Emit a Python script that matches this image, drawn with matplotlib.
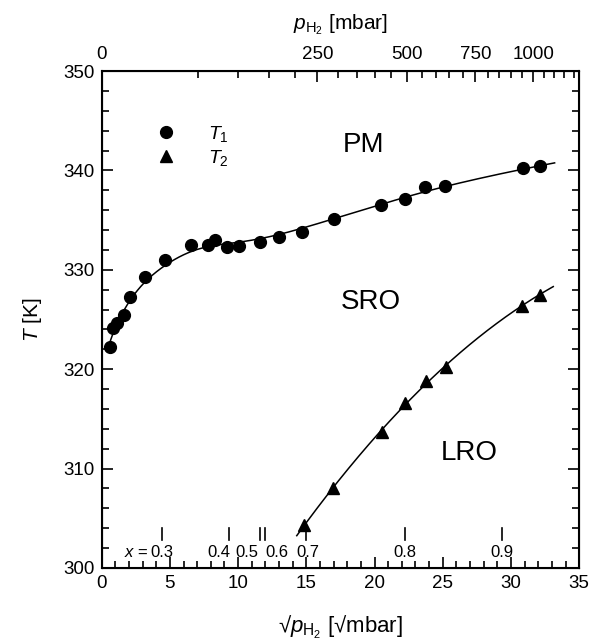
import numpy as np
import matplotlib
matplotlib.use("Agg")
import matplotlib.pyplot as plt
from matplotlib.lines import Line2D

plt.rcParams['font.family'] = ['Liberation Sans', 'DejaVu Sans']
plt.rcParams['mathtext.fontset'] = 'custom'
plt.rcParams['mathtext.rm'] = 'Liberation Sans'
plt.rcParams['mathtext.it'] = 'Liberation Sans:italic'

# ---- data ----
t1_x = [0.60, 0.80, 1.14, 1.65, 2.11, 3.17, 4.61, 6.55, 7.83, 8.30, 9.21, 10.07,
        11.57, 13.03, 14.72, 17.05, 20.50, 22.20, 23.73, 25.18, 30.88, 32.14]
t1_T = [322.2, 324.1, 324.7, 325.5, 327.3, 329.3, 331.0, 332.5, 332.5, 333.0, 332.3, 332.4,
        332.8, 333.3, 333.8, 335.1, 336.5, 337.1, 338.3, 338.4, 340.2, 340.4]
t2_x = [14.80, 16.98, 20.55, 22.24, 23.77, 25.23, 30.81, 32.10]
t2_T = [304.3, 308.0, 313.7, 316.6, 318.8, 320.2, 326.4, 327.5]

comp_labels = ['0.3', '0.4', '0.5', '0.6', '0.7', '0.8', '0.9']
comp_x = [4.44, 9.34, 11.60, 11.94, 15.00, 22.20, 29.35]

p_major = [0, 250, 500, 750, 1000]
p_minor = list(range(50, 1201, 50))

regions = ['PM', 'SRO', 'LRO']


def local_linear(xd, yd, xq, h):
    xd = np.asarray(xd, float)
    yd = np.asarray(yd, float)
    out = []
    for q in xq:
        w = np.exp(-0.5 * ((xd - q) / h) ** 2)
        A = np.vstack([np.ones_like(xd), xd - q]).T
        W = np.diag(w)
        beta = np.linalg.solve(A.T @ W @ A, A.T @ W @ yd)
        out.append(beta[0])
    return np.array(out)


# ---- figure ----
fig = plt.figure(figsize=(5.91, 6.40), dpi=100)
ax = fig.add_axes([0.172, 0.1125, 0.808, 0.7765])

# smoothed curves
xs1 = np.linspace(0.5, 33.2, 400)
ys1 = local_linear(np.sqrt(t1_x), t1_T, np.sqrt(xs1), 0.45)
ax.plot(xs1, ys1, color='black', lw=1.1, zorder=2)

c2 = np.polyfit(t2_x, t2_T, 2)
xs2 = np.linspace(14.3, 33.1, 200)
ax.plot(xs2, np.polyval(c2, xs2), color='black', lw=1.1, zorder=2)

ax.plot(t1_x, t1_T, 'o', color='black', ms=8.5, zorder=3)
ax.plot(t2_x, t2_T, '^', color='black', ms=8.5, zorder=3)

ax.set_xlim(0, 35)
ax.set_ylim(300, 350)
ax.set_xticks(np.arange(0, 36, 5))
ax.set_xticks(np.arange(0, 36, 1), minor=True)
ax.set_yticks(np.arange(300, 351, 10))
ax.set_yticks(np.arange(300, 351, 2), minor=True)
ax.tick_params(which='both', direction='in', right=True, top=False, labelsize=13.5, width=1.2, pad=5)
ax.tick_params(which='major', length=8)
ax.tick_params(which='minor', length=5)
for s in ax.spines.values():
    s.set_linewidth(1.5)

ax.set_ylabel('$T$ [K]', fontsize=15, labelpad=14)
ax.set_xlabel('\u221a$p_{\\mathrm{H_2}}$ [\u221ambar]', fontsize=16, labelpad=16)

# top axis (pressure)
ax2 = ax.twiny()
ax2.set_xlim(0, 35)
ax2.set_xticks(np.sqrt(p_major))
ax2.set_xticklabels([str(p) for p in p_major])
ax2.set_xticks(np.sqrt([p for p in p_minor if p not in p_major]), minor=True)
ax2.tick_params(which='both', direction='in', labelsize=13.5, width=1.2, pad=6)
ax2.tick_params(which='major', length=8)
ax2.tick_params(which='minor', length=5)
ax2.set_xlabel('$p_{\\mathrm{H_2}}$ [mbar]', fontsize=15, labelpad=12)

# composition markers
lab_off = [0, -7, -9.5, 9, 1, 0, 0]
for lab, xc, off in zip(comp_labels, comp_x, lab_off):
    ax.plot([xc, xc], [0.056, 0.080], color='black', lw=1.2,
            transform=ax.get_xaxis_transform())
    ax.annotate(lab, xy=(xc, 0.032), xycoords=ax.get_xaxis_transform(),
                xytext=(off, 0), textcoords='offset points',
                ha='center', va='center', fontsize=12)
ax.annotate('$x$ =', xy=(comp_x[0], 0.032), xycoords=ax.get_xaxis_transform(),
            xytext=(-10, 0), textcoords='offset points',
            ha='right', va='center', fontsize=12)

# region labels
ax.text(19.2, 342.6, regions[0], fontsize=20, ha='center', va='center')
ax.text(19.7, 326.8, regions[1], fontsize=20, ha='center', va='center')
ax.text(26.95, 311.6, regions[2], fontsize=20, ha='center', va='center')

# legend
handles = [Line2D([], [], marker='o', ls='none', color='black', ms=8.5),
           Line2D([], [], marker='^', ls='none', color='black', ms=8.5)]
ax.legend(handles, ['$T_1$', '$T_2$'], loc='center', bbox_to_anchor=(0.18, 0.85),
          frameon=False, fontsize=14, handletextpad=1.2, labelspacing=0.2)

fig.savefig('out.png', dpi=100)
